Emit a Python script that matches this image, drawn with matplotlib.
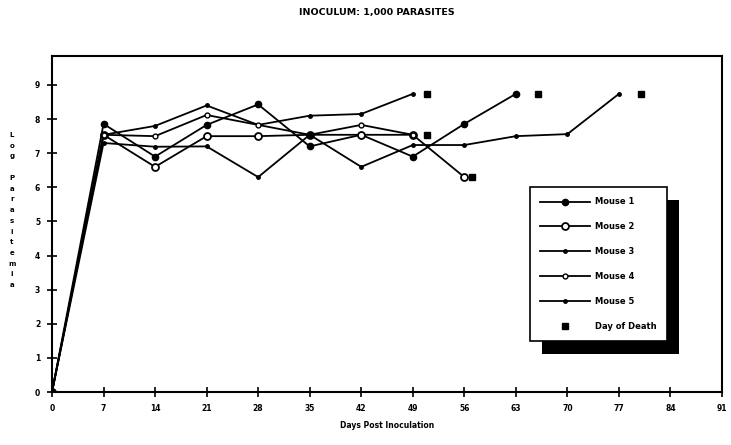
import matplotlib.pyplot as plt
from matplotlib.patches import Rectangle

# data
days = [0, 7, 14, 21, 28, 35, 42, 49, 56, 63, 70, 77]
mouse1 = [0, 7.86, 6.9, 7.83, 8.43, 7.2, 7.54, 6.9, 7.86, 8.74]
mouse2 = [0, 7.54, 6.6, 7.5, 7.5, 7.54, 7.54, 7.54, 6.3]
mouse3 = [0, 7.54, 7.8, 8.4, 7.83, 8.1, 8.15, 8.74]
mouse4 = [0, 7.54, 7.5, 8.12, 7.83, 7.54, 7.83, 7.54]
mouse5 = [0, 7.3, 7.19, 7.2, 6.3, 7.54, 6.6, 7.24, 7.24, 7.5, 7.56, 8.74]
death_day = [51, 51, 57, 66, 80]
death_val = [8.74, 7.54, 6.3, 8.74, 8.74]
xticks = list(range(0, 92, 7))
yticks = list(range(0, 10))

fig = plt.figure(figsize=(7.31, 4.45), dpi=100)
ax = fig.add_axes([52 / 731, 1 - 392 / 445, 670 / 731, 336 / 445])

lw = 1.3
ax.plot(days[:len(mouse1)], mouse1, color='black', lw=lw, marker='o', ms=4.5,
        mfc='black', label='Mouse 1')
ax.plot(days[:len(mouse2)], mouse2, color='black', lw=lw, marker='o', ms=5,
        mfc='white', mew=1.3, label='Mouse 2')
ax.plot(days[:len(mouse3)], mouse3, color='black', lw=lw, marker='o', ms=2.5,
        mfc='black', label='Mouse 3')
ax.plot(days[:len(mouse4)], mouse4, color='black', lw=lw, marker='o', ms=3.5,
        mfc='white', mew=1.0, label='Mouse 4')
ax.plot(days[:len(mouse5)], mouse5, color='black', lw=lw, marker='o', ms=2.5,
        mfc='black', label='Mouse 5')
ax.plot(death_day, death_val, ls='none', marker='s', ms=5, color='black',
        label='Day of Death')

ax.set_xlim(0, 91)
ax.set_ylim(0, 9.85)
ax.set_xticks(xticks)
ax.set_yticks(yticks)
ax.tick_params(direction='inout', length=7, width=1.2, labelsize=5.5, pad=5)
for t in ax.get_xticklabels() + ax.get_yticklabels():
    t.set_fontweight('bold')
for s in ax.spines.values():
    s.set_linewidth(1.5)

ax.set_xlabel('Days Post Inoculation', fontsize=5.5, fontweight='bold', labelpad=6)
fig.text(12 / 731, 1 - 210 / 445, '\n'.join('Log Parasitemia'), fontsize=5,
         fontweight='bold', ha='center', va='center', linespacing=1.95)
fig.text(377 / 731, 1 - 13 / 445, 'INOCULUM: 1,000 PARASITES', fontsize=6.8,
         fontweight='black', ha='center', va='center')

leg = ax.legend(loc='upper left', bbox_to_anchor=(530 / 731, 1 - 187 / 445),
                bbox_transform=fig.transFigure, fontsize=6.0, frameon=True,
                fancybox=False, edgecolor='black', framealpha=1,
                handlelength=5.9, labelspacing=1.9, borderpad=1.25,
                handletextpad=0.7, borderaxespad=0)
leg.get_frame().set_linewidth(1.2)
leg.set_zorder(5)
for t in leg.get_texts():
    t.set_fontweight('bold')

# black drop shadow behind the legend box
fig.canvas.draw()
bb = leg.get_window_extent()
shadow = Rectangle((bb.x0 + 12, bb.y0 - 13), bb.width, bb.height,
                   transform=None, facecolor='black', edgecolor='none', zorder=4)
ax.add_artist(shadow)

fig.savefig('out.png', dpi=100)
